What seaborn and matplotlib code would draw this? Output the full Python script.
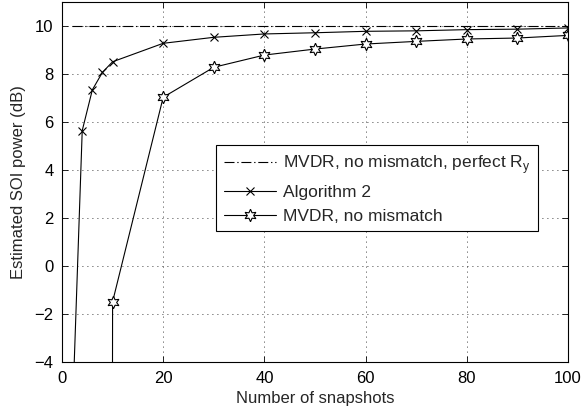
import matplotlib
matplotlib.use("Agg")
import matplotlib.pyplot as plt
import seaborn as sns
import numpy as np

# Number of snapshots
snapshots = [2, 4, 6, 8, 10, 20, 30, 40, 50, 60, 70, 80, 90, 100]

# Estimated SOI power (dB)
perfect_ry = [10.0] * len(snapshots)
algorithm2 = [-6.6, 5.64, 7.34, 8.07, 8.51, 9.28, 9.53, 9.67, 9.72, 9.78, 9.80, 9.85, 9.87, 9.92]
mvdr = [-300.0, -300.0, -300.0, -300.0, -1.50, 7.03, 8.28, 8.79, 9.04, 9.25, 9.36, 9.46, 9.50, 9.61]

xticks = [0, 20, 40, 60, 80, 100]
yticks = [-4, -2, 0, 2, 4, 6, 8, 10]

sns.set_style("ticks")
plt.rcParams["font.family"] = ["Liberation Sans", "DejaVu Sans"]
plt.rcParams["mathtext.fontset"] = "custom"
plt.rcParams["mathtext.rm"] = "Liberation Sans"
plt.rcParams["axes.unicode_minus"] = True

fig = plt.figure(figsize=(5.82, 4.13), dpi=100)
ax = fig.add_axes([0.1065, 0.1242, 0.8695, 0.8708])

sns.lineplot(x=snapshots, y=perfect_ry, ax=ax, color="black", linewidth=0.8,
             linestyle=(0, (9, 2.5, 1.2, 2.5)),
             label=r"MVDR, no mismatch, perfect R$_\mathregular{y}$")
sns.lineplot(x=snapshots, y=algorithm2, ax=ax, color="black", linewidth=0.8,
             marker="x", markersize=6, markeredgewidth=0.8,
             markeredgecolor="black", label="Algorithm 2")
sns.lineplot(x=snapshots, y=mvdr, ax=ax, color="black", linewidth=0.8,
             marker=(6, 1, 0), markersize=9, markeredgewidth=0.8,
             markerfacecolor="white", markeredgecolor="black",
             label="MVDR, no mismatch")

ax.set_xlim(0, 100)
ax.set_ylim(-4, 11)
ax.set_xticks(xticks)
ax.set_yticks(yticks)
ax.grid(True, color="black", linestyle=(0, (1, 5)), linewidth=0.6)
ax.tick_params(direction="in", top=True, right=True, length=4, width=0.6,
               labelsize=12, colors="black")
ax.tick_params(axis="x", pad=7)
ax.tick_params(axis="y", pad=6)
for s in ax.spines.values():
    s.set_visible(True)
    s.set_linewidth(0.8)
    s.set_color("black")

ax.set_xlabel("Number of snapshots", fontsize=12, labelpad=3)
ax.set_ylabel("Estimated SOI power (dB)", fontsize=12, labelpad=6)

leg = ax.legend(loc="upper right", bbox_to_anchor=(0.941, 0.602),
                fontsize=12.5, frameon=True, fancybox=False, framealpha=1,
                edgecolor="black", handlelength=3.0, handletextpad=0.4,
                borderpad=0.45, labelspacing=0.5, borderaxespad=0)
leg.get_frame().set_linewidth(0.8)

fig.savefig("out.png", dpi=100)
